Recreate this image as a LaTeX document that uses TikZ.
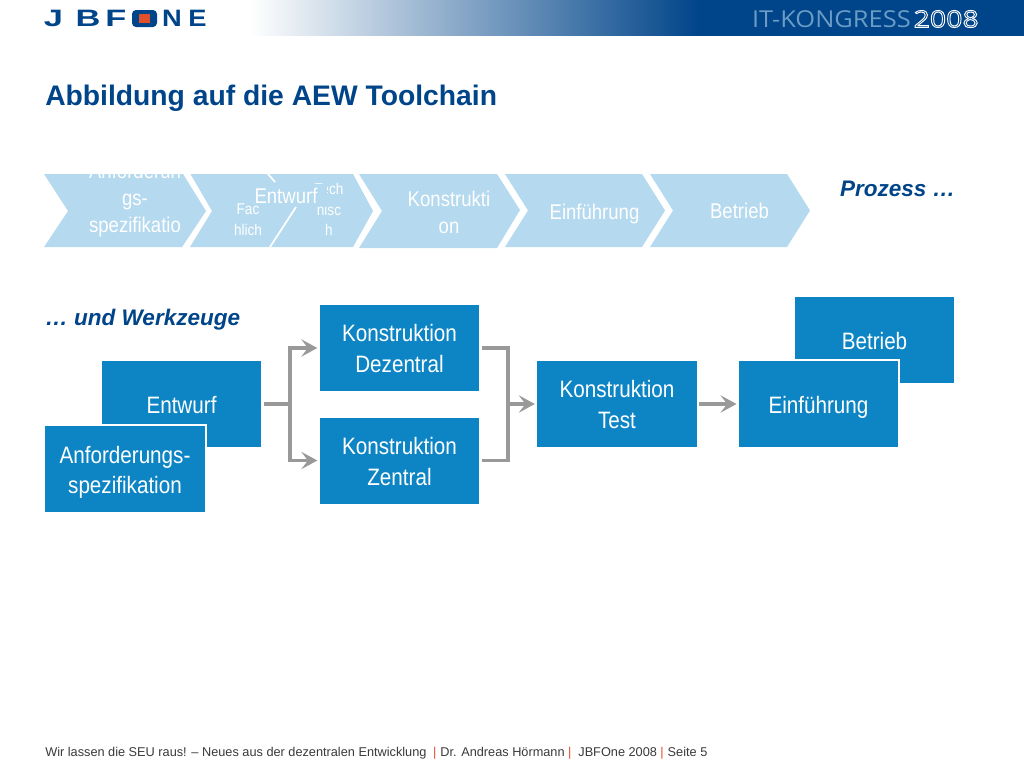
\documentclass[tikz,border=0pt]{standalone}
\usepackage{fontspec}
\setmainfont{Liberation Sans}
\newfontfamily\cond[FakeStretch=0.87]{Liberation Sans}
\newfontfamily\logofont[FakeStretch=1.45]{Liberation Sans}
\newfontfamily\logofontn[FakeStretch=1.15]{Liberation Sans}
\newfontfamily\kongfont[FakeStretch=1.09]{Open Sans}
\newfontfamily\yearfont[FakeStretch=1.22]{Open Sans}
\usetikzlibrary{arrows.meta}
\definecolor{navy}{HTML}{004489}
\definecolor{chev}{HTML}{B5D9EE}
\definecolor{boxblue}{HTML}{0D85C5}
\definecolor{conn}{HTML}{999999}
\definecolor{sep}{HTML}{E0502A}
\definecolor{foot}{HTML}{3A3A3A}
\definecolor{kong}{HTML}{6A9CC6}
\newcommand{\dn}[1]{\rule{0pt}{#1pt}}
\newcommand{\redbar}{{\color{sep}|}}
\tikzset{
  x=0.75pt,y=-0.75pt,
  chevshape/.style={fill=chev,draw=none},
  chevtext/.style={text=white,align=center,font=\cond\fontsize{16}{20.5}\selectfont,inner sep=0pt},
  smalltext/.style={text=white,align=center,font=\cond\fontsize{11.7}{15.6}\selectfont,inner sep=0pt},
  bluebox/.style={fill=boxblue,text=white,align=center,minimum width=119.7pt,minimum height=64.5pt,inner sep=0pt,outer sep=1.8pt,font=\cond\fontsize{17.8}{23}\selectfont},
  whiteedge/.style={bluebox,draw=white,line width=1.5pt,minimum width=121pt,minimum height=65.5pt,outer sep=1pt},
  link/.style={draw=conn,line width=2.4pt},
  arrowlink/.style={link,-{Stealth[length=12pt,width=13pt,inset=5pt]}},
  heading/.style={text=navy,font=\bfseries\fontsize{21.2}{25}\selectfont,inner sep=0pt,anchor=west},
  tagline/.style={text=navy,font=\bfseries\itshape\fontsize{16.9}{20}\selectfont,inner sep=0pt},
  logoletter/.style={text=navy,inner sep=0pt,font=\logofont\bfseries\fontsize{17.8}{20}\selectfont},
  logoletternarrow/.style={text=navy,inner sep=0pt,font=\logofontn\bfseries\fontsize{17.8}{20}\selectfont},
}
\begin{document}
\begin{tikzpicture}
\fill[white] (0,0) rectangle (1024,768);
\useasboundingbox (0,0) rectangle (1024,768);
% header band
\begin{scope}
\clip (0,0) rectangle (1024,35.5);
\fill[left color=white,right color=navy,draw=none] (250,-2) rectangle (700,40);
\fill[navy] (699,-2) rectangle (1024,40);
\end{scope}
% logo
\node[logoletter] (lJ) at (53.5,18.5) {J};
\node[logoletter] (lB) at (88,18.5) {B};
\node[logoletter] (lF) at (116,18.5) {F};
\node[fill=navy,rounded corners=3pt,minimum width=18.75pt,minimum height=12.75pt,inner sep=0pt] (lO) at (144.5,18.5) {};
\node[fill=sep,minimum width=8.25pt,minimum height=6.75pt,inner sep=0pt] (lOc) at (144.5,18.5) {};
\node[logoletternarrow] (lN) at (172,18.5) {N};
\node[logoletternarrow] (lE) at (197.5,18.5) {E};
% congress
\node[inner sep=0pt,anchor=east,text=kong,font=\kongfont\fontsize{17.5}{20}\selectfont] (kongress) at (911,19) {IT-KONGRESS};
\node[inner sep=0pt,anchor=east,text=navy,font=\yearfont\fontsize{17.5}{20}\selectfont] (year) at (979,19) {\special{pdf:code q 1 Tr 0.7 w 1 1 1 RG}2008\special{pdf:code Q}};
% title
\node[heading] (title) at (45,98) {Abbildung auf die AEW Toolchain};
% process chevrons
\fill[chevshape] (44,174) -- (183,174) -- (206,211) -- (182,247) -- (44,247) -- (68,211) -- cycle;
\fill[chevshape] (190.5,174) -- (353,174) -- (373,211) -- (353,247) -- (190,247) -- (212,211) -- cycle;
\draw[white,line width=1.3pt] (268,174) -- (275,182);
\draw[white,line width=1.3pt] (270,247) -- (296,207);
\fill[chevshape] (359,174) -- (497,174) -- (520,210) -- (497,248) -- (359,248) -- (382,211) -- cycle;
\fill[chevshape] (505,174) -- (642,174) -- (665,210.5) -- (642,247) -- (505,247) -- (528,210.5) -- cycle;
\fill[chevshape] (650,174) -- (787,174) -- (810,210.5) -- (787,247) -- (650,247) -- (673,210.5) -- cycle;
\node[chevtext] (c1) at (135,200) {Anforderun\\gs-\\spezifikatio};
\node[smalltext] (c2a) at (248,220) {Fac\\hlich};
\node[smalltext] (c2b) at (329,209.5) {Tech\\nisc\\h};
\fill[chev] (313,183.5) rectangle (326.5,205);
\node[chevtext] (c2) at (286,196) {Entwurf};
\node[chevtext] (c3) at (449,212.5) {Konstrukti\\on};
\node[chevtext] (c4) at (594.5,214) {Einführung};
\node[chevtext] (c5) at (739.5,211) {Betrieb};
\node[tagline,anchor=east] (t1) at (955.5,189) {Prozess …};
\node[tagline,anchor=west] (t2) at (45,320) {… und Werkzeuge};
% tool boxes
\node[bluebox] (bet) at (874.5,340) {\dn{15}Betrieb};
\node[whiteedge] (ein) at (818.5,404) {\dn{17.5}Einführung};
\node[bluebox] (ent) at (181.5,404) {\dn{14.5}Entwurf};
\node[whiteedge] (anf) at (125,469) {\dn{18}Anforderungs-\\spezifikation};
\node[bluebox] (dez) at (399.5,348) {\dn{13.5}Konstruktion\\Dezentral};
\node[bluebox] (zen) at (399.5,460.5) {\dn{14.5}Konstruktion\\Zentral};
\node[bluebox] (tst) at (617,404) {\dn{14}Konstruktion\\Test};
% connectors
\coordinate (j1) at (290,404);
\coordinate (j2) at (508,404);
\draw[link] (ent.east) -- (j1);
\draw[arrowlink] (j1) |- (dez.west);
\draw[arrowlink] (j1) |- (zen.west);
\draw[link] (dez.east) -| (j2);
\draw[link] (zen.east) -| (j2);
\draw[arrowlink] (j2) -- (tst.west |- j2);
\draw[arrowlink] (tst.east) -- (ein.west);
% footer
\node[inner sep=0pt,anchor=west,text=foot,font=\fontsize{9.55}{12}\selectfont] (foot) at (45,753) {Wir lassen die SEU raus! – Neues aus der dezentralen Entwicklung\hspace{4.9pt}\redbar\hspace{3pt}Dr. Andreas Hörmann\hspace{2.6pt}\redbar\hspace{5.2pt}JBFOne 2008\hspace{2.6pt}\redbar\hspace{3pt}Seite 5};
\end{tikzpicture}
\end{document}
